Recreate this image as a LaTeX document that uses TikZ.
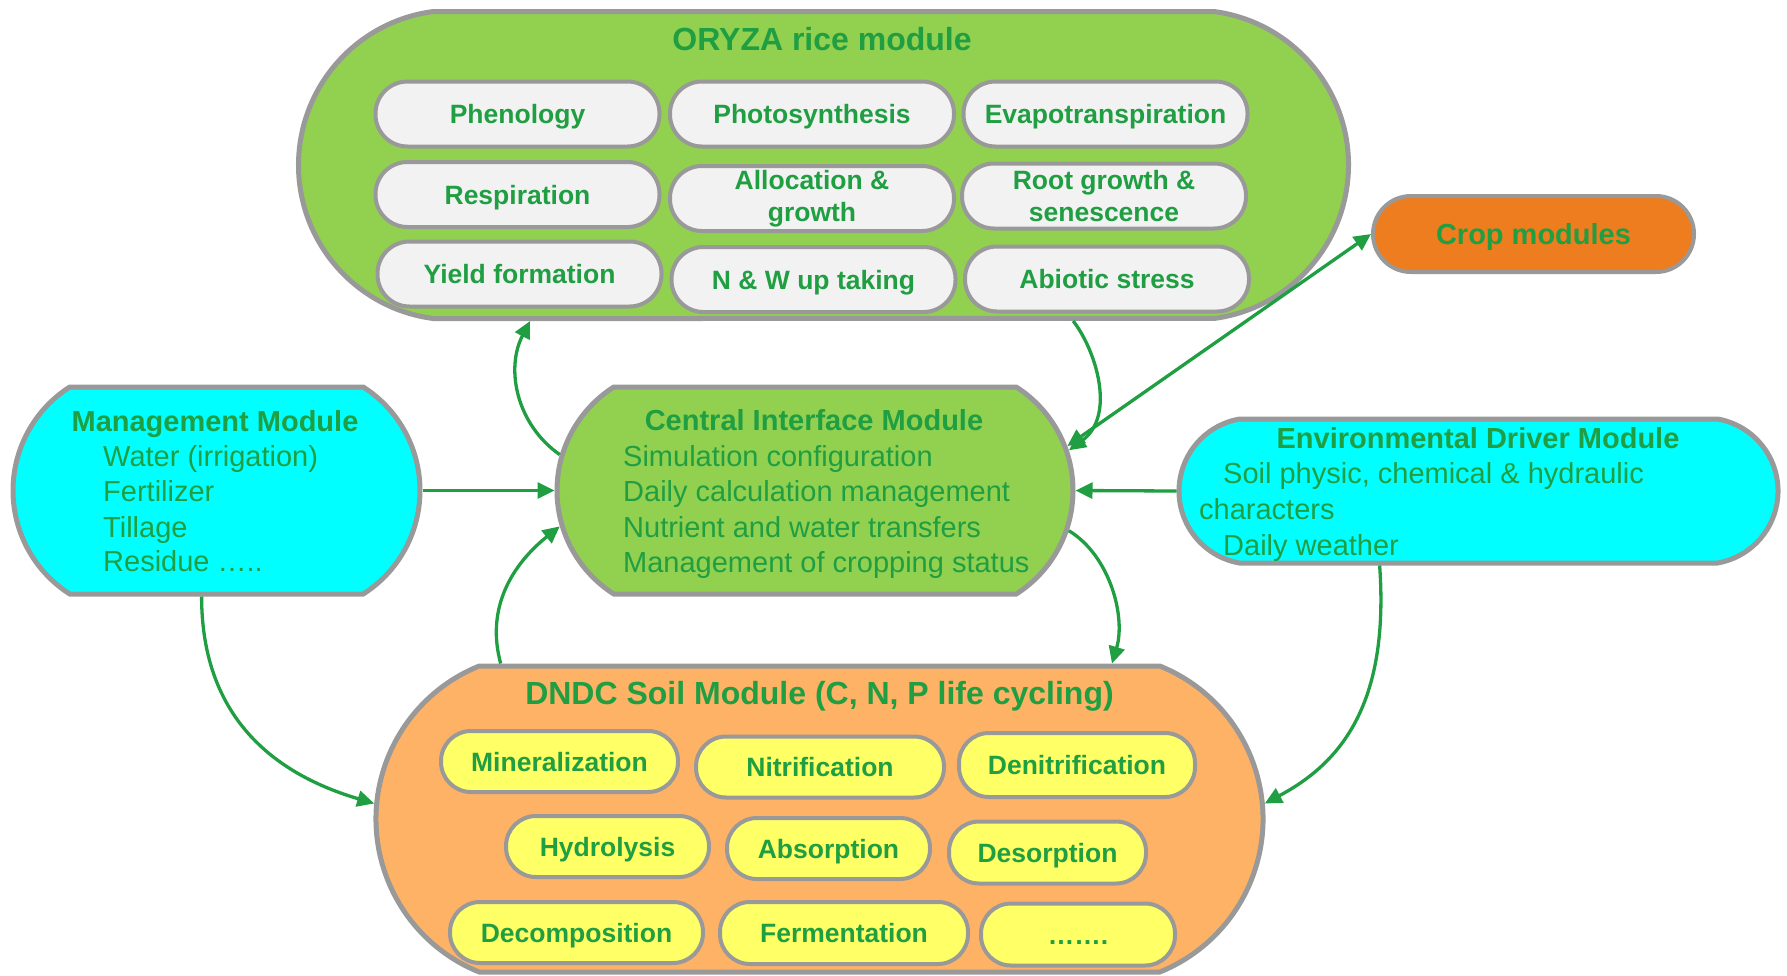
\documentclass[tikz,border=0pt]{standalone}
\usepackage{fontspec}
\setmainfont{Liberation Sans}
\usetikzlibrary{shapes.misc,arrows.meta}
\definecolor{tgreen}{RGB}{31,158,66}
\definecolor{bgray}{RGB}{153,153,153}
\definecolor{oryzag}{RGB}{146,208,80}
\definecolor{pillgray}{RGB}{242,242,242}
\definecolor{dndcor}{RGB}{254,178,102}
\definecolor{yel}{RGB}{255,255,102}
\definecolor{cyanb}{RGB}{0,255,255}
\definecolor{cropor}{RGB}{237,125,31}
\tikzset{
  outer/.style={draw=bgray, line width=5pt, rounded rectangle, inner sep=0pt},
  opill/.style={draw=bgray, line width=4pt, rectangle, rounded corners=32pt, fill=pillgray,
    minimum width=284pt, minimum height=65pt, inner sep=0pt, text=tgreen,
    font=\bfseries\fontsize{26.5}{32}\selectfont},
  one/.style={text height=19pt, text depth=0pt},
  two/.style={align=center},
  dpill/.style={draw=bgray, line width=4pt, rectangle, rounded corners=30pt, fill=yel,
    minimum height=61pt, inner sep=0pt, text=tgreen, text height=19pt, text depth=0pt,
    font=\bfseries\fontsize{26.5}{32}\selectfont},
  bigtitle/.style={text=tgreen, inner sep=0pt, font=\bfseries\fontsize{32}{38}\selectfont},
  modtitle/.style={text=tgreen, inner sep=0pt, font=\bfseries\fontsize{29}{35}\selectfont},
  item/.style={text=tgreen, inner sep=0pt, anchor=west, text height=21pt, text depth=0pt,
    font=\fontsize{29}{35}\selectfont},
  conn/.style={draw=tgreen, line width=3.3pt, -{Triangle[length=17pt,width=16pt]}},
}
\begin{document}
\begin{tikzpicture}[x=1pt,y=-1pt]
\useasboundingbox (0,0) rectangle (1787,975);

% ORYZA module
\node[outer, fill=oryzag, minimum width=1050pt, minimum height=307pt,
  rounded rectangle arc length=165] (oryza) at (823.5,165) {};
\node[bigtitle] (oryzat) at (822,39) {ORYZA rice module};
\node[opill, one] (phen) at (517.5,114) {Phenology};
\node[opill, one] (photo) at (812,114) {Photosynthesis};
\node[opill, one] (evap) at (1105.5,114) {Evapotranspiration};
\node[opill, one] (resp) at (517.5,194.5) {Respiration};
\node[opill, two] (alloc) at (812,198.5) {Allocation \&\\growth};
\node[opill, two] (root) at (1104,196) {Root growth \&\\senescence};
\node[opill, one] (yield) at (519.5,274) {Yield formation};
\node[opill, one] (nw) at (813.5,279.5) {N \& W up taking};
\node[opill, one] (abio) at (1107,279) {Abiotic stress};

% Crop modules
\node[draw=bgray, line width=4pt, rounded rectangle, fill=cropor, minimum width=321pt,
  minimum height=76pt, inner sep=0pt, text=tgreen, text height=21pt, text depth=0pt,
  font=\bfseries\fontsize{29}{35}\selectfont]
  (crop) at (1533.5,234) {Crop modules};

% Management module
\node[outer, fill=cyanb, minimum width=407pt, minimum height=207pt,
  rounded rectangle arc length=115] (mgmt) at (216.5,490.5) {};
\node[modtitle] (mgmtt) at (215,424) {Management Module};
\node[item] (m1) at (103,456) {Water (irrigation)};
\node[item] (m2) at (103,491) {Fertilizer};
\node[item] (m3) at (103,527) {Tillage};
\node[item] (m4) at (103,561) {Residue …..};

% Central interface module
\node[outer, fill=oryzag, minimum width=516pt, minimum height=207pt,
  rounded rectangle arc length=115] (central) at (815,490.5) {};
\node[modtitle] (centralt) at (814,420.5) {Central Interface Module};
\node[item] (c1) at (623,456) {Simulation configuration};
\node[item] (c2) at (623,491) {Daily calculation management};
\node[item] (c3) at (623,526.5) {Nutrient and water transfers};
\node[item] (c4) at (623,562) {Management of cropping status};

% Environmental driver module
\node[outer, fill=cyanb, minimum width=599pt, minimum height=144pt,
  rounded rectangle arc length=160] (env) at (1478.5,491) {};
\node[modtitle] (envt) at (1478,438) {Environmental Driver Module};
\node[item] (e1) at (1223,473) {Soil physic, chemical \& hydraulic};
\node[item] (e2) at (1199,509) {characters};
\node[item] (e3) at (1223,545) {Daily weather};

% DNDC soil module
\node[outer, fill=dndcor, minimum width=887pt, minimum height=306pt,
  rounded rectangle arc length=136] (dndc) at (819.5,819) {};
\node[bigtitle] (dndct) at (819.5,696) {DNDC Soil Module (C, N, P life cycling)};
\node[dpill, minimum width=237pt] (mine) at (559.5,761.5) {Mineralization};
\node[dpill, minimum width=248pt] (nitr) at (820,767) {Nitrification};
\node[dpill, minimum width=236pt, minimum height=64pt] (deni) at (1077,765) {Denitrification};
\node[dpill, minimum width=203pt] (hydr) at (607.5,846.5) {Hydrolysis};
\node[dpill, minimum width=203pt] (abso) at (828.5,848.5) {Absorption};
\node[dpill, minimum width=197pt, minimum height=62pt] (deso) at (1047.5,852.5) {Desorption};
\node[dpill, minimum width=253pt] (deco) at (576.5,932.5) {Decomposition};
\node[dpill, minimum width=248pt, minimum height=62pt] (ferm) at (844,933) {Fermentation};
\node[dpill, minimum width=194pt, minimum height=62pt] (more) at (1078,934.5) {…….};

% Connectors
\draw[conn] (central.172) .. controls +(-43,-30) and +(-25,48) .. (oryza.208.6);
\draw[conn] (oryza.328.3) .. controls +(22,28) and +(48,-35) .. (central.9);
\draw[conn, {Triangle[length=17pt,width=16pt]}-{Triangle[length=17pt,width=16pt]}] (central.10) -- (crop.west);
\draw[conn] (mgmt.east) -- (central.west);
\draw[conn] (env.west) -- (central.east);
\draw[conn] (dndc.154) .. controls +(-17,-62) and +(-40,32) .. (central.188.2);
\draw[conn] (central.351.2) .. controls +(41,25) and +(14,-47) .. (dndc.28.3);
\draw[conn] (mgmt.262.4) .. controls +(0,125) and +(-95,-28) .. (dndc.178);
\draw[conn] (env.217.4) .. controls +(10,140) and +(75,-40) .. (dndc.2);
\end{tikzpicture}
\end{document}
